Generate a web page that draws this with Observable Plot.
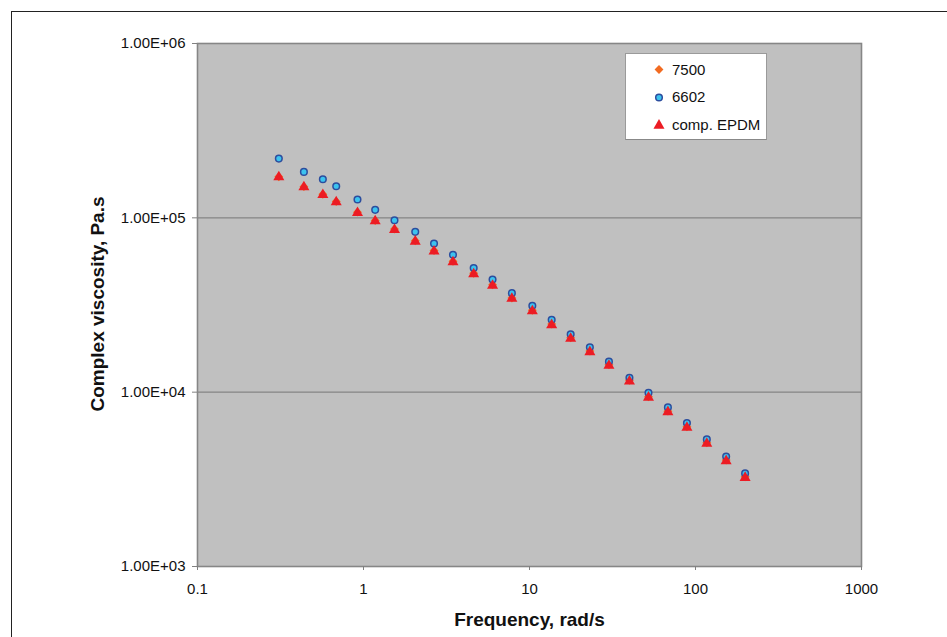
<!DOCTYPE html>
<html>
<head>
<meta charset="utf-8">
<script src="https://cdn.jsdelivr.net/npm/d3@7"></script>
<script src="https://cdn.jsdelivr.net/npm/@observablehq/plot@0.6"></script>
<style>
  html, body { margin: 0; padding: 0; background: #fff; }
  #wrap { position: relative; width: 947px; height: 637px; overflow: hidden; font-family: "Liberation Sans", Arial, sans-serif; }
  #frame { position: absolute; left: 11px; top: 11px; width: 1000px; height: 700px; border-top: 1.5px solid #222; border-left: 1.5px solid #222; }
  .title { position: absolute; font-weight: bold; font-size: 19px; color: #111; white-space: nowrap; }
  #xtitle { left: 529.5px; top: 626.5px; transform: translate(-50%, -82%); }
  #ytitle { left: 105.5px; top: 304px; transform: translate(-50%, -50%) rotate(-90deg) translateY(-36%); transform-origin: center; }
  #legend { position: absolute; left: 625px; top: 53px; width: 140px; height: 85px; background: #fff; border: 1px solid #9a9a9a; border-bottom-color: #888; }
  .item { position: absolute; left: 0; height: 20px; display: flex; align-items: center; font-size: 15px; color: #111; }
  .item svg { margin-left: 27px; margin-right: 7px; }
</style>
</head>
<body>
<div id="wrap">
  <div id="frame"></div>
  <div id="chart"></div>
  <div class="title" id="xtitle">Frequency, rad/s</div>
  <div class="title" id="ytitle">Complex viscosity, Pa.s</div>
  <div id="legend"></div>
</div>
<script>
// ---- data ----
const frequency = [0.309, 0.4375, 0.569, 0.685, 0.92, 1.176, 1.537, 2.05, 2.66, 3.46, 4.61, 5.99, 7.83, 10.4, 13.6, 17.7, 23.1, 30.1, 40.0, 52.1, 68.2, 88.8, 117, 153, 199];
const visc7500 = [172000, 151000, 136500, 124000, 107800, 96600, 86200, 73900, 64900, 56300, 48100, 41300, 34700, 29500, 24600, 20500, 17200, 14350, 11700, 9420, 7780, 6330, 5130, 4080, 3270];
const visc6602 = [218700, 183400, 166400, 151700, 127300, 111100, 96900, 83100, 71200, 61400, 51600, 44300, 36970, 31300, 26000, 21500, 18100, 14960, 12100, 9910, 8180, 6650, 5360, 4270, 3420];
const viscEPDM = [171100, 149900, 135400, 123000, 106800, 95700, 85400, 73200, 64200, 55700, 47600, 40900, 34400, 29200, 24300, 20300, 17000, 14200, 11550, 9320, 7700, 6260, 5070, 4030, 3230];
const seriesNames = ["7500", "6602", "comp. EPDM"];
const xTicks = [0.1, 1, 10, 100, 1000];
const yTicks = [1e3, 1e4, 1e5, 1e6];
const gridY = [1e4, 1e5];

const styles = {
  "7500": {symbol: "diamond2", fill: "#f26b21", stroke: "none", r: 4},
  "6602": {symbol: "circle", fill: "#3cc3ef", stroke: "#2c4d9e", r: 3.3},
  "comp. EPDM": {symbol: "triangle", fill: "#ec1c24", stroke: "none", r: 4.1}
};
const seriesValues = {"7500": visc7500, "6602": visc6602, "comp. EPDM": viscEPDM};
const tables = seriesNames.map(name => frequency.map((f, i) => ({f, v: seriesValues[name][i], series: name})));

const fmtE = d => d.toExponential(2).toUpperCase().replace(/E([+-])(\d)$/, "E$10$2");

const chart = Plot.plot({
  width: 947,
  height: 637,
  marginLeft: 197,
  marginRight: 86,
  marginTop: 43,
  marginBottom: 71,
  style: {fontFamily: "Liberation Sans, Arial, sans-serif", fontSize: "15px", color: "#111", background: "transparent"},
  x: {type: "log", domain: [0.1, 1000]},
  y: {type: "log", domain: [1e3, 1e6]},
  marks: [
    Plot.frame({fill: "#c0c0c0", stroke: "none"}),
    Plot.ruleY(gridY, {stroke: "#858585", strokeWidth: 1.3}),
    Plot.frame({stroke: "#868686", strokeWidth: 1.6}),
    Plot.axisX({ticks: xTicks, tickFormat: d => String(d), tickSize: 4, tickPadding: 13, stroke: "#808080", label: null}),
    Plot.axisY({ticks: yTicks, tickFormat: fmtE, tickSize: 5, tickPadding: 7, stroke: "#808080", label: null}),
    ...tables.map((t, k) => {
      const s = styles[seriesNames[k]];
      return Plot.dot(t, {x: "f", y: "v", symbol: () => s.symbol, r: s.r, fill: s.fill, stroke: s.stroke, strokeWidth: 1.5});
    })
  ]
});
document.getElementById("chart").appendChild(chart);

// ---- legend ----
const legend = document.getElementById("legend");
const symMap = {circle: d3.symbolCircle, diamond2: d3.symbolDiamond2, triangle: d3.symbolTriangle};
seriesNames.forEach((name, i) => {
  const s = styles[name];
  const item = document.createElement("div");
  item.className = "item";
  item.style.top = (5 + i * 27.8) + "px";
  const svg = d3.create("svg").attr("width", 12).attr("height", 12);
  svg.append("path")
    .attr("transform", "translate(6,6.5)")
    .attr("d", d3.symbol(symMap[s.symbol], Math.PI * s.r * s.r)())
    .attr("fill", s.fill)
    .attr("stroke", s.stroke)
    .attr("stroke-width", 1.5);
  item.appendChild(svg.node());
  const span = document.createElement("span");
  span.textContent = name;
  item.appendChild(span);
  legend.appendChild(item);
});
</script>
</body>
</html>
